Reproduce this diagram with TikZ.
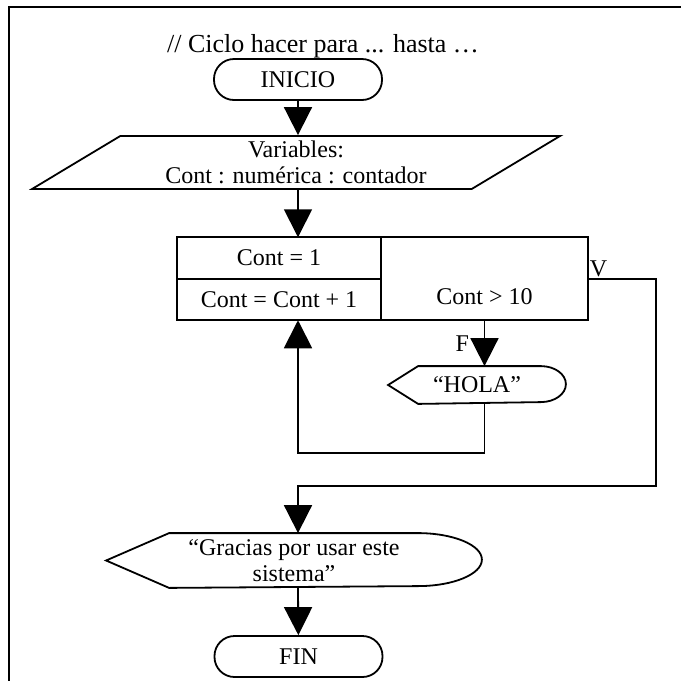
\documentclass[tikz,border=0pt]{standalone}
\usepackage{fontspec}
\setmainfont{Liberation Serif}
\usetikzlibrary{positioning,shapes.geometric,arrows.meta}

\begin{document}
\begin{tikzpicture}[
  x=0.5pt, y=0.5pt,
  line width=0.9pt,
  font=\fontsize{12}{13}\selectfont,
  term/.style={draw, rectangle, rounded corners=10pt, minimum width=84pt, minimum height=20.5pt, inner sep=0pt},
  io/.style={draw, trapezium, trapezium left angle=27, trapezium right angle=153, trapezium stretches body, minimum width=264pt, minimum height=26.5pt, inner sep=0.5pt, align=center},
  celda/.style={draw, rectangle, outer sep=0pt, inner sep=0pt, minimum width=102pt, minimum height=20.75pt},
  salida/.style={rectangle, inner sep=0pt, align=center},
  flecha/.style={-{Triangle[length=14pt,width=14pt]}}
]
\useasboundingbox (0,0) rectangle (681,-681);

% marco
\draw[line width=1pt] (681,-7) -- (9,-7) -- (9,-681);

\node[font=\fontsize{13}{15}\selectfont, anchor=base] (titulo) at (323,-52) {// Ciclo hacer para ... hasta …};
\node[term] (inicio) at (298,-79.5) {INICIO};
\node[io] (vars) at (296,-162.5) {Variables:\\Cont : numérica : contador};

% ciclo para
\node[celda] (ini) at (279,-258) {Cont = 1};
\node[celda, below=0pt of ini] (inc) {Cont = Cont + 1};
\node[celda, anchor=north west, minimum width=103.5pt, minimum height=41.5pt, text height=33.5pt, text depth=8pt] (cond) at (ini.north east) {Cont > 10};

\node[salida, minimum width=88pt, minimum height=18pt] (hola) at (477,-385) {“HOLA”};
\node[salida, minimum width=187pt, minimum height=26.5pt] (gracias) at (294,-560.5) {“Gracias por usar este\\sistema”};
\node[term] (fin) at (298.5,-656.5) {FIN};

% salidas
\draw (hola.west) -- ([xshift=15pt]hola.north west) -- ([xshift=-12.5pt]hola.north east)
  arc[start angle=90, end angle=-90, x radius=12.5pt, y radius=9pt] -- ([xshift=15pt]hola.south west) -- cycle;
\draw (gracias.west) -- ([xshift=31.5pt]gracias.north west) -- ([xshift=-32pt]gracias.north east)
  arc[start angle=90, end angle=-90, x radius=32pt, y radius=13.25pt] -- ([xshift=31.5pt]gracias.south west) -- cycle;

\path
(inicio) edge[flecha] (inicio |- vars.north)
(vars.south -| inicio) edge[flecha] (ini.north -| inicio)
(cond.south) edge[flecha] node[left=4pt]{F} (cond.south |- hola.north)
(gracias.south -| inicio) edge[flecha] (fin)
;

% regreso y salida del ciclo
\coordinate (esquina) at (656,-486);
\draw[flecha] (cond.south |- hola.south) -- ++(0,-49) -| (inc.south -| inicio);
\draw[flecha] (ini.south -| cond.east) node[anchor=south west, inner sep=0.5pt]{V} -| (esquina) -| (gracias.north -| inicio);

\end{tikzpicture}
\end{document}
